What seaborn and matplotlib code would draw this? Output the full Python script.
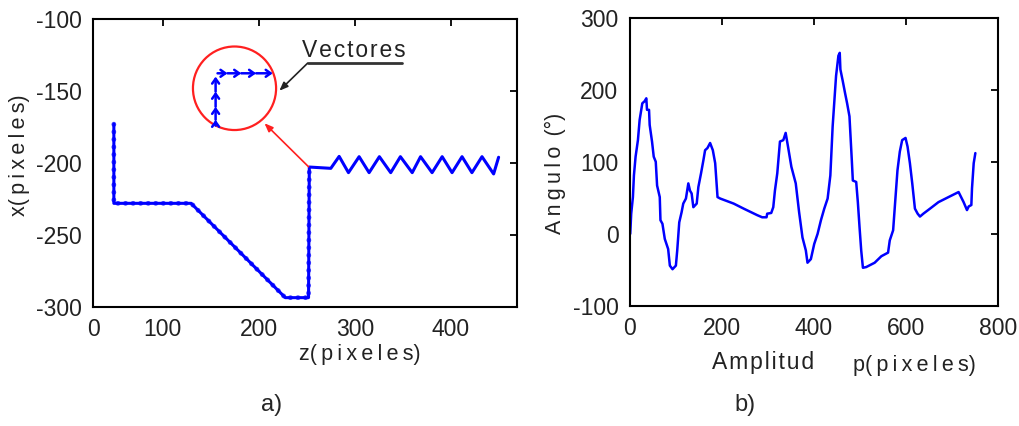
import matplotlib
matplotlib.use("Agg")
import matplotlib.pyplot as plt
import seaborn as sns
import pandas as pd
from matplotlib.patches import Ellipse

# ---------------- data: panel a) contour path ----------------
path_z = [49, 49, 129.5, 227.6, 251.8, 252.6, 275, 283.7, 293.4, 304.5, 314.9,
          325.6, 337.4, 347.5, 359.8, 368.5, 380.5, 391, 401.3, 411.7, 422,
          432.5, 444.6, 449.8]
path_y = [-173, -228, -228, -293.5, -293.5, -202.8, -203.7, -195.4, -206.7,
          -195.6, -206.7, -195.6, -206.7, -195.6, -206.7, -195.6, -206.7,
          -195.6, -206.7, -195.6, -206.7, -195.6, -207.6, -196]
n_marked = 6  # vertices of the chain-coded (marked) part

# vectors in the zoom circle
vec_tail_z = [155, 155, 155, 155, 157, 167.4, 181.7, 197.2]
vec_tail_y = [-174, -170, -161, -150.5, -137.7, -137.7, -137.7, -137.7]
vec_head_z = [155, 155, 155, 155, 167.4, 181.7, 197.2, 214.5]
vec_head_y = [-170, -161, -150.5, -140, -137.7, -137.7, -137.7, -137.7]

circle_center = (174.7, -148.1)
circle_size = (86.6, 58)

# ---------------- data: panel b) angle signal ----------------
p_vals = [1.5, 3.6, 7.3, 9.5, 13.1, 18.2, 21.9, 27.7, 32.8, 36.4, 37.9, 42.3,
          43.7, 48.8, 52.5, 56.9, 59.8, 65.6, 67.1, 71.4, 76.5, 83.8, 87.5,
          93.3, 100.6, 103.5, 107.9, 113, 116.6, 122.4, 127.6, 131.2, 134.8,
          138.5, 145.8, 149.4, 155.2, 160.3, 164, 169.1, 174.9, 180.8, 185.9,
          191, 196.8, 226, 247.8, 277, 287.9, 297.4, 298.8, 307.6, 312, 315.6,
          320.7, 326.5, 333.8, 338.9, 344, 351.3, 360.8, 368.1, 375.4, 382.7,
          386.3, 393.6, 400.9, 408.2, 415.5, 422.7, 430, 435.9, 440.9, 444.6,
          448.3, 453.4, 456.3, 457.7, 462.8, 467.9, 472.3, 477.4, 482.5, 484.7,
          492, 495.6, 499.3, 502.9, 506.6, 513.8, 532.1, 546.6, 561.2, 564.9,
          572.2, 575.8, 581.6, 586.7, 591.8, 599.1, 603.5, 608.6, 613.7, 619.5,
          625.4, 630.5, 637.8, 652.3, 670.6, 692.4, 714.3, 725.2, 732.5, 736.2,
          742, 743.4, 747.1, 750.7]
ang_vals = [0, 28, 51, 81, 107, 130, 158, 181, 184, 188, 172, 172, 151, 128,
            107, 100, 67, 51, 19, 14, -7, -21, -44, -49, -44, -23, 16, 30, 42,
            49, 70, 60, 56, 37, 42, 65, 84, 102, 116, 119, 126, 116, 98, 51, 49,
            42, 35, 26, 23, 23, 28, 29, 37, 60, 84, 128, 130, 140, 121, 93, 70,
            30, -5, -23, -40, -35, -14, 0, 19, 35, 49, 81, 149, 184, 219, 247,
            251, 228, 212, 195, 181, 163, 102, 74, 72, 44, 9, -23, -47, -46, -40,
            -31, -26, -9, 5, 37, 88, 114, 130, 133, 121, 98, 70, 35, 28, 24, 28,
            35, 44, 51, 58, 44, 33, 38, 40, 63, 98, 112]

left_xticks = [27.3, 100, 200, 300, 400]
left_xticklabels = ["0", "100", "200", "300", "400"]
left_yticks = [-300, -250, -200, -150, -100]
right_xticks = [0, 200, 400, 600, 800]
right_yticks = [-100, 0, 100, 200, 300]

TS = "\u2009"  # thin space (wide letter spacing)
HS = "\u200a"  # hair space (slight letter spacing)
def spaced(s, sep=TS):
    return sep.join(s)

# ---------------- style ----------------
sns.set_style("white")
plt.rcParams["font.family"] = ["Liberation Sans", "DejaVu Sans"]
plt.rcParams["axes.unicode_minus"] = False

BLUE = "#0000ff"
TXT = "#222222"
fig = plt.figure(figsize=(10.2, 4.26), dpi=100)
axL = fig.add_axes([0.0912, 0.2793, 0.4157, 0.6761])
axR = fig.add_axes([0.6172, 0.2817, 0.3613, 0.6772])

for ax in (axL, axR):
    for s in ax.spines.values():
        s.set_color("black")
        s.set_linewidth(1.5)
    ax.tick_params(direction="in", top=True, right=True, length=5, width=1.3,
                   labelsize=16.5, pad=8, colors="black", labelcolor=TXT)

# ---------------- panel a ----------------
dfL = pd.DataFrame({"z": path_z, "y": path_y})
sns.lineplot(data=dfL, x="z", y="y", sort=False, estimator=None, ax=axL,
             color=BLUE, linewidth=2.2)
axL.plot(path_z[:n_marked], path_y[:n_marked], color=BLUE, linewidth=3.4,
         linestyle=(0, (0.1, 1.5)), dash_capstyle="round", alpha=0.75)

for tz, ty, hz, hy in zip(vec_tail_z, vec_tail_y, vec_head_z, vec_head_y):
    axL.annotate("", xy=(hz, hy), xytext=(tz, ty),
                 arrowprops=dict(arrowstyle="->,head_length=0.35,head_width=0.25",
                                 color=BLUE, lw=1.8, shrinkA=0, shrinkB=0))

axL.add_patch(Ellipse(circle_center, circle_size[0], circle_size[1], fill=False,
                      edgecolor="#ff2020", linewidth=1.6))
axL.annotate("", xy=(205.9, -172.4), xytext=(251.8, -202.6),
             arrowprops=dict(arrowstyle="-|>,head_length=0.5,head_width=0.2",
                             color="#ff2020", lw=1.2, shrinkA=0, shrinkB=0))
axL.annotate("", xy=(221.4, -149.8), xytext=(250.8, -130.7),
             arrowprops=dict(arrowstyle="-|>,head_length=0.5,head_width=0.2",
                             color="#222222", lw=1.2, shrinkA=0, shrinkB=0))
axL.plot([250.8, 349], [-130.7, -130.7], color="#333333", linewidth=2)
axL.text(245, -121.8, spaced("Vectores", HS), fontsize=16.5, ha="left",
         va="center", color=TXT)

axL.set_xlim(27.3, 469)
axL.set_ylim(-300, -100)
axL.set_xticks(left_xticks)
axL.set_xticklabels(left_xticklabels)
axL.set_yticks(left_yticks)
axL.set_xlabel("")
axL.set_ylabel("")

# ---------------- panel b ----------------
dfR = pd.DataFrame({"p": p_vals, "ang": ang_vals})
sns.lineplot(data=dfR, x="p", y="ang", sort=False, estimator=None, ax=axR,
             color=BLUE, linewidth=1.8)
axR.set_xlim(0, 800)
axR.set_ylim(-100, 300)
axR.set_xticks(right_xticks)
axR.set_yticks(right_yticks)
axR.set_xlabel("")
axR.set_ylabel("")

# ---------------- labels ----------------
fig.text(0.0196, 0.636, "x(" + TS + spaced("pixeles") + ")", rotation=90,
         fontsize=15.5, ha="center", va="center", color=TXT)
fig.text(0.3525, 0.1667, "z(" + TS + spaced("pixeles") + ")", fontsize=15.5,
         ha="center", va="center", color=TXT)
fig.text(0.545, 0.594, spaced("Angulo") + TS + " (°)", rotation=90,
         fontsize=15.5, ha="center", va="center", color=TXT)
fig.text(0.748, 0.148, spaced("Amplitud", HS), fontsize=16.5, ha="center",
         va="center", color=TXT)
fig.text(0.8966, 0.143, "p(" + TS + spaced("pixeles") + ")", fontsize=15.5,
         ha="center", va="center", color=TXT)
fig.text(0.2667, 0.049, "a)", fontsize=17, ha="center", va="center")
fig.text(0.730, 0.049, "b)", fontsize=17, ha="center", va="center")

fig.savefig("out.png", dpi=100)
